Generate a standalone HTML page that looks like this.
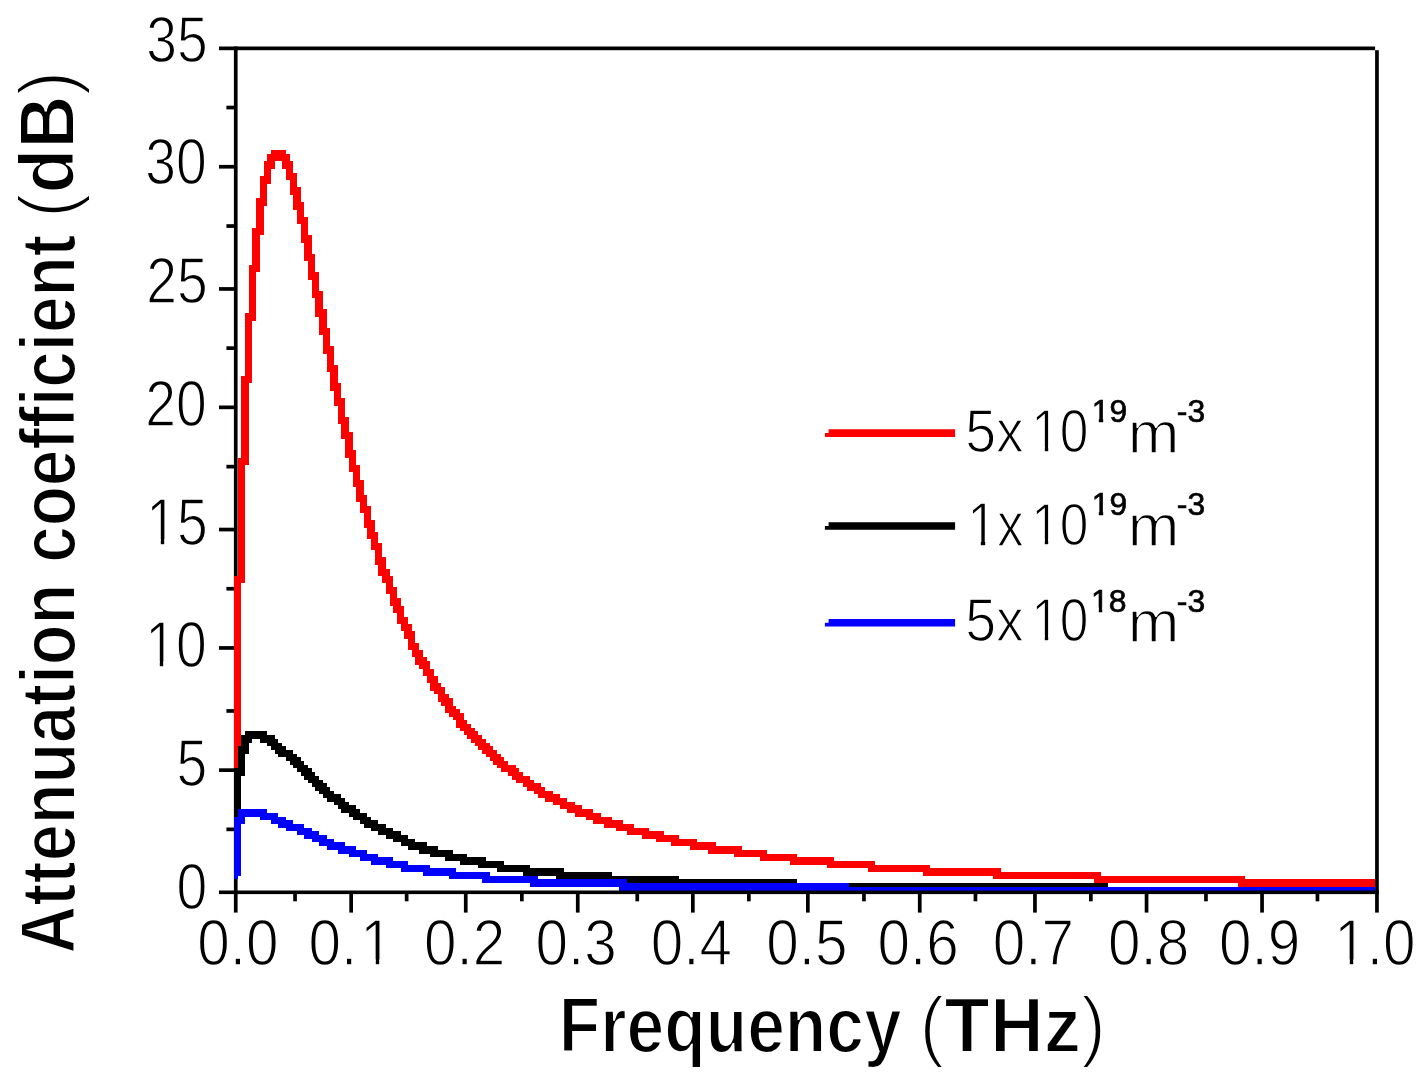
<!DOCTYPE html>
<html lang="en">
<head>
<meta charset="utf-8">
<title>Attenuation coefficient vs Frequency</title>
<style>
html,body{margin:0;padding:0;background:#fff;overflow:hidden;}
body{width:1426px;height:1080px;overflow:hidden;}
svg{display:block;}
text{font-family:"Liberation Sans",sans-serif;fill:#000;}
.b{font-weight:700;}
</style>
</head>
<body>
<svg width="1426" height="1080" viewBox="0 0 1426 1080">
<rect width="1426" height="1080" fill="#fff"/>
<g id="axes">
<rect x="233.9" y="46.5" width="3.7" height="866.1" fill="#000"/>
<rect x="1375.1" y="50.2" width="3.7" height="862.4" fill="#000"/>
<rect x="219.0" y="46.5" width="1156.1" height="3.7" fill="#000"/>
<rect x="226.4" y="105.7" width="8.0" height="3.7" fill="#000"/>
<rect x="219.0" y="164.9" width="15.4" height="3.7" fill="#000"/>
<rect x="226.4" y="224.2" width="8.0" height="3.7" fill="#000"/>
<rect x="219.0" y="287.1" width="15.4" height="3.7" fill="#000"/>
<rect x="226.4" y="346.3" width="8.0" height="3.7" fill="#000"/>
<rect x="219.0" y="405.5" width="15.4" height="3.7" fill="#000"/>
<rect x="226.4" y="464.8" width="8.0" height="3.7" fill="#000"/>
<rect x="219.0" y="527.7" width="15.4" height="3.7" fill="#000"/>
<rect x="226.4" y="586.9" width="8.0" height="3.7" fill="#000"/>
<rect x="219.0" y="646.1" width="15.4" height="3.7" fill="#000"/>
<rect x="226.4" y="709.1" width="8.0" height="3.7" fill="#000"/>
<rect x="219.0" y="768.3" width="15.4" height="3.7" fill="#000"/>
<rect x="226.4" y="827.5" width="8.0" height="3.7" fill="#000"/>
<rect x="293.2" y="893.6" width="3.7" height="7.7" fill="#000"/>
<rect x="349.3" y="893.6" width="3.7" height="19.0" fill="#000"/>
<rect x="404.8" y="893.6" width="3.7" height="7.7" fill="#000"/>
<rect x="463.9" y="893.6" width="3.7" height="19.0" fill="#000"/>
<rect x="520.0" y="893.6" width="3.7" height="7.7" fill="#000"/>
<rect x="575.9" y="893.6" width="3.7" height="19.0" fill="#000"/>
<rect x="635.4" y="893.6" width="3.7" height="7.7" fill="#000"/>
<rect x="691.0" y="893.6" width="3.7" height="19.0" fill="#000"/>
<rect x="747.0" y="893.6" width="3.7" height="7.7" fill="#000"/>
<rect x="806.0" y="893.6" width="3.7" height="19.0" fill="#000"/>
<rect x="862.1" y="893.6" width="3.7" height="7.7" fill="#000"/>
<rect x="917.9" y="893.6" width="3.7" height="19.0" fill="#000"/>
<rect x="973.6" y="893.6" width="3.7" height="7.7" fill="#000"/>
<rect x="1033.1" y="893.6" width="3.7" height="19.0" fill="#000"/>
<rect x="1089.0" y="893.6" width="3.7" height="7.7" fill="#000"/>
<rect x="1144.7" y="893.6" width="3.7" height="19.0" fill="#000"/>
<rect x="1204.1" y="893.6" width="3.7" height="7.7" fill="#000"/>
<rect x="1260.2" y="893.6" width="3.7" height="19.0" fill="#000"/>
<rect x="1315.6" y="893.6" width="3.7" height="7.7" fill="#000"/>
</g>
<g id="curves" shape-rendering="crispEdges">
<path fill="#ff0000" d="M270.9,150.2H285.8V153.9H270.9ZM267.2,153.9H289.5V161.3H267.2ZM282.1,161.3H293.2V168.7H282.1ZM263.5,161.3H274.7V168.7H263.5ZM285.8,168.7H293.2V172.5H285.8ZM263.5,168.7H270.9V176.2H263.5ZM285.8,172.5H296.9V179.9H285.8ZM259.8,176.2H270.9V183.6H259.8ZM289.5,179.9H296.9V187.3H289.5ZM289.5,187.3H300.6V194.7H289.5ZM259.8,183.6H267.2V198.4H259.8ZM293.2,194.7H300.6V202.1H293.2ZM256.1,198.4H267.2V205.8H256.1ZM293.2,202.1H304.3V209.5H293.2ZM296.9,209.5H304.3V216.9H296.9ZM296.9,216.9H308.0V224.3H296.9ZM256.1,205.8H263.5V228.0H256.1ZM300.6,224.3H308.0V235.4H300.6ZM252.4,228.0H263.5V235.4H252.4ZM300.6,235.4H311.7V242.8H300.6ZM304.3,242.8H311.7V253.9H304.3ZM304.3,253.9H315.4V261.3H304.3ZM252.4,235.4H259.8V265.0H252.4ZM308.0,261.3H315.4V272.4H308.0ZM248.7,265.0H259.8V272.4H248.7ZM308.0,272.4H319.1V279.8H308.0ZM311.7,279.8H319.1V290.9H311.7ZM311.7,290.9H322.8V298.3H311.7ZM315.4,298.3H322.8V309.4H315.4ZM248.7,272.4H256.1V313.1H248.7ZM315.4,309.4H326.5V316.8H315.4ZM245.0,313.1H256.1V320.5H245.0ZM319.1,316.8H326.5V327.9H319.1ZM319.1,327.9H330.2V335.3H319.1ZM322.8,335.3H330.2V346.4H322.8ZM322.8,346.4H333.9V353.8H322.8ZM326.5,353.8H333.9V364.9H326.5ZM326.5,364.9H337.6V372.3H326.5ZM245.0,320.5H252.4V376.0H245.0ZM330.2,372.3H337.6V383.4H330.2ZM241.3,376.0H252.4V383.4H241.3ZM330.2,383.4H341.3V390.8H330.2ZM333.9,390.8H341.3V398.2H333.9ZM333.9,398.2H345.1V405.6H333.9ZM337.6,405.6H345.1V416.8H337.6ZM337.6,416.8H348.8V424.2H337.6ZM341.3,424.2H348.8V431.6H341.3ZM341.3,431.6H352.5V439.0H341.3ZM345.1,439.0H352.5V450.1H345.1ZM241.3,383.4H248.7V457.5H241.3ZM345.1,450.1H356.2V457.5H345.1ZM348.8,457.5H356.2V464.9H348.8ZM237.6,457.5H248.7V464.9H237.6ZM348.8,464.9H359.9V472.3H348.8ZM352.5,472.3H359.9V479.7H352.5ZM352.5,479.7H363.6V487.1H352.5ZM356.2,487.1H363.6V494.5H356.2ZM356.2,494.5H367.3V501.9H356.2ZM359.9,501.9H367.3V505.6H359.9ZM359.9,505.6H371.0V513.0H359.9ZM363.6,513.0H371.0V520.4H363.6ZM363.6,520.4H374.7V527.8H363.6ZM367.3,527.8H374.7V531.5H367.3ZM367.3,531.5H378.4V538.9H367.3ZM371.0,538.9H378.4V542.6H371.0ZM371.0,542.6H382.1V550.0H371.0ZM374.7,550.0H382.1V557.4H374.7ZM374.7,557.4H385.8V564.8H374.7ZM378.4,564.8H385.8V568.5H378.4ZM237.6,464.9H245.0V575.9H237.6ZM378.4,568.5H389.5V575.9H378.4ZM382.1,575.9H393.2V583.3H382.1ZM233.9,575.9H245.0V583.3H233.9ZM385.8,583.3H393.2V587.0H385.8ZM385.8,587.0H396.9V594.4H385.8ZM389.5,594.4H396.9V598.1H389.5ZM389.5,598.1H400.6V605.5H389.5ZM393.2,605.5H404.3V612.9H393.2ZM396.9,612.9H404.3V616.6H396.9ZM396.9,616.6H408.0V624.0H396.9ZM400.6,624.0H411.7V631.4H400.6ZM404.3,631.4H415.4V638.8H404.3ZM408.0,638.8H415.4V642.5H408.0ZM408.0,642.5H419.1V649.9H408.0ZM411.7,649.9H422.9V657.3H411.7ZM415.4,657.3H426.6V661.0H415.4ZM415.4,661.0H430.3V664.8H415.4ZM419.1,664.8H430.3V668.5H419.1ZM422.9,668.5H434.0V675.9H422.9ZM426.6,675.9H437.7V683.3H426.6ZM430.3,683.3H441.4V687.0H430.3ZM430.3,687.0H445.1V690.7H430.3ZM434.0,690.7H445.1V694.4H434.0ZM437.7,694.4H448.8V698.1H437.7ZM437.7,698.1H452.5V701.8H437.7ZM441.4,701.8H452.5V705.5H441.4ZM445.1,705.5H456.2V709.2H445.1ZM445.1,709.2H459.9V712.9H445.1ZM448.8,712.9H463.6V716.6H448.8ZM452.5,716.6H463.6V720.3H452.5ZM456.2,720.3H467.3V724.0H456.2ZM456.2,724.0H471.0V727.7H456.2ZM459.9,727.7H474.7V731.4H459.9ZM463.6,731.4H478.4V735.1H463.6ZM467.3,735.1H482.1V738.8H467.3ZM471.0,738.8H485.8V742.5H471.0ZM233.9,583.3H241.3V746.2H233.9ZM474.7,742.5H489.5V746.2H474.7ZM478.4,746.2H493.2V749.9H478.4ZM482.1,749.9H497.0V753.6H482.1ZM485.8,753.6H500.7V757.3H485.8ZM489.5,757.3H504.4V761.0H489.5ZM493.2,761.0H508.1V764.7H493.2ZM233.9,746.2H237.6V768.4H233.9ZM497.0,764.7H515.5V768.4H497.0ZM500.7,768.4H519.2V772.1H500.7ZM508.1,772.1H522.9V775.8H508.1ZM511.8,775.8H530.3V779.5H511.8ZM515.5,779.5H534.0V783.2H515.5ZM522.9,783.2H541.4V786.9H522.9ZM526.6,786.9H545.1V790.6H526.6ZM534.0,790.6H552.5V794.3H534.0ZM537.7,794.3H559.9V798.0H537.7ZM545.1,798.0H567.4V801.7H545.1ZM552.5,801.7H574.8V805.4H552.5ZM559.9,805.4H582.2V809.1H559.9ZM567.4,809.1H593.3V812.8H567.4ZM574.8,812.8H600.7V816.5H574.8ZM585.9,816.5H611.8V820.2H585.9ZM593.3,820.2H622.9V823.9H593.3ZM604.4,823.9H634.0V827.6H604.4ZM615.5,827.6H648.9V831.3H615.5ZM626.6,831.3H663.7V835.0H626.6ZM641.5,835.0H678.5V838.7H641.5ZM656.3,838.7H697.0V842.4H656.3ZM671.1,842.4H715.6V846.1H671.1ZM689.6,846.1H741.5V849.8H689.6ZM708.1,849.8H767.4V853.5H708.1ZM734.1,853.5H797.1V857.2H734.1ZM760.0,857.2H834.1V860.9H760.0ZM789.6,860.9H874.9V864.6H789.6ZM826.7,864.6H930.4V868.3H826.7ZM867.5,868.3H1000.8V872.0H867.5ZM923.0,872.0H1100.9V875.7H923.0ZM993.4,875.7H1245.4V879.4H993.4ZM1093.5,879.4H1375.0V883.1H1093.5ZM1238.0,883.1H1375.0V886.8H1238.0Z"/>
<path fill="#000000" d="M245.0,731.4H267.2V735.1H245.0ZM241.3,735.1H274.7V738.8H241.3ZM241.3,738.8H252.4V742.5H241.3ZM259.8,738.8H278.4V742.5H259.8ZM241.3,742.5H248.7V746.2H241.3ZM267.2,742.5H282.1V746.2H267.2ZM270.9,746.2H285.8V749.9H270.9ZM237.6,746.2H248.7V753.6H237.6ZM274.7,749.9H293.2V753.6H274.7ZM278.4,753.6H296.9V757.3H278.4ZM285.8,757.3H300.6V761.0H285.8ZM289.5,761.0H304.3V764.7H289.5ZM237.6,753.6H245.0V768.4H237.6ZM293.2,764.7H308.0V768.4H293.2ZM296.9,768.4H311.7V772.1H296.9ZM233.9,768.4H245.0V775.8H233.9ZM300.6,772.1H315.4V775.8H300.6ZM304.3,775.8H319.1V779.5H304.3ZM308.0,779.5H322.8V783.2H308.0ZM311.7,783.2H326.5V786.9H311.7ZM315.4,786.9H330.2V790.6H315.4ZM319.1,790.6H333.9V794.3H319.1ZM322.8,794.3H341.3V798.0H322.8ZM326.5,798.0H345.1V801.7H326.5ZM333.9,801.7H348.8V805.4H333.9ZM233.9,775.8H241.3V809.1H233.9ZM337.6,805.4H356.2V809.1H337.6ZM341.3,809.1H359.9V812.8H341.3ZM233.9,809.1H237.6V816.5H233.9ZM348.8,812.8H367.3V816.5H348.8ZM352.5,816.5H371.0V820.2H352.5ZM359.9,820.2H378.4V823.9H359.9ZM363.6,823.9H385.8V827.6H363.6ZM371.0,827.6H393.2V831.3H371.0ZM378.4,831.3H400.6V835.0H378.4ZM385.8,835.0H408.0V838.7H385.8ZM393.2,838.7H415.4V842.4H393.2ZM400.6,842.4H426.6V846.1H400.6ZM408.0,846.1H437.7V849.8H408.0ZM419.1,849.8H452.5V853.5H419.1ZM430.3,853.5H467.3V857.2H430.3ZM445.1,857.2H485.8V860.9H445.1ZM459.9,860.9H504.4V864.6H459.9ZM478.4,864.6H530.3V868.3H478.4ZM497.0,868.3H563.6V872.0H497.0ZM522.9,872.0H611.8V875.7H522.9ZM556.2,875.7H678.5V879.4H556.2ZM626.6,879.4H797.1V883.1H626.6ZM848.9,883.1H1108.3V886.8H848.9Z"/>
<path fill="#0000ff" d="M237.6,809.1H267.2V812.8H237.6ZM237.6,812.8H278.4V816.5H237.6ZM259.8,816.5H285.8V820.2H259.8ZM233.9,816.5H245.0V823.9H233.9ZM270.9,820.2H293.2V823.9H270.9ZM278.4,823.9H304.3V827.6H278.4ZM285.8,827.6H311.7V831.3H285.8ZM296.9,831.3H319.1V835.0H296.9ZM304.3,835.0H326.5V838.7H304.3ZM311.7,838.7H333.9V842.4H311.7ZM319.1,842.4H345.1V846.1H319.1ZM326.5,846.1H356.2V849.8H326.5ZM337.6,849.8H367.3V853.5H337.6ZM348.8,853.5H378.4V857.2H348.8ZM359.9,857.2H393.2V860.9H359.9ZM371.0,860.9H408.0V864.6H371.0ZM385.8,864.6H430.3V868.3H385.8ZM400.6,868.3H456.2V872.0H400.6ZM233.9,823.9H241.3V875.7H233.9ZM422.9,872.0H489.5V875.7H422.9ZM233.9,875.7H237.6V879.4H233.9ZM448.8,875.7H537.7V879.4H448.8ZM482.1,879.4H626.6V883.1H482.1ZM530.3,883.1H848.9V886.8H530.3ZM619.2,886.8H1375.0V890.5H619.2Z"/>
</g>
<g id="axis-bottom">
<rect x="219.0" y="890.5" width="1159.8" height="3.6" fill="#000"/>
</g>
<g id="legend-lines">
<path fill="#ff0000" d="M828.6,429.3 H955.1 V436.9 H824.9 V433.1 H828.6 Z"/>
<path fill="#000000" d="M828.6,522.2 H955.1 V529.7 H824.9 V526.0 H828.6 Z"/>
<path fill="#0000ff" d="M828.6,619.0 H955.1 V626.5 H824.9 V622.8 H828.6 Z"/>
</g>
<g id="labels">
<text font-size="60" transform="translate(146.18,61.70) scale(0.9210,1.0951)" stroke="#fff" stroke-width="1.3">35</text>
<text font-size="60" transform="translate(145.26,184.00) scale(0.9210,1.0829)" stroke="#fff" stroke-width="1.3">30</text>
<text font-size="60" transform="translate(146.18,303.10) scale(0.9210,1.0951)" stroke="#fff" stroke-width="1.3">25</text>
<text font-size="60" transform="translate(145.26,426.00) scale(0.9210,1.0951)" stroke="#fff" stroke-width="1.3">20</text>
<text font-size="60" transform="translate(146.18,544.80) scale(0.9210,1.1175)" stroke="#fff" stroke-width="1.3">15</text>
<text font-size="60" transform="translate(145.26,667.30) scale(0.9210,1.0829)" stroke="#fff" stroke-width="1.3">10</text>
<text font-size="60" transform="translate(176.57,786.40) scale(0.9210,1.1175)" stroke="#fff" stroke-width="1.3">5</text>
<text font-size="60" transform="translate(176.57,909.00) scale(0.9210,1.0902)" stroke="#fff" stroke-width="1.3">0</text>
<text font-size="60" transform="translate(197.27,964.80) scale(0.9750,1.0829)" stroke="#fff" stroke-width="1.3">0.0</text>
<text font-size="60" transform="translate(308.38,964.80) scale(0.9750,1.0829)" stroke="#fff" stroke-width="1.3">0.<tspan dx="3.2">1</tspan></text>
<text font-size="60" transform="translate(423.97,964.80) scale(0.9750,1.0829)" stroke="#fff" stroke-width="1.3">0.2</text>
<text font-size="60" transform="translate(535.58,964.80) scale(0.9750,1.0829)" stroke="#fff" stroke-width="1.3">0.3</text>
<text font-size="60" transform="translate(650.68,964.80) scale(0.9750,1.0829)" stroke="#fff" stroke-width="1.3">0.4</text>
<text font-size="60" transform="translate(766.18,964.80) scale(0.9750,1.0829)" stroke="#fff" stroke-width="1.3">0.5</text>
<text font-size="60" transform="translate(877.48,964.80) scale(0.9750,1.0829)" stroke="#fff" stroke-width="1.3">0.6</text>
<text font-size="60" transform="translate(992.78,964.80) scale(0.9750,1.0829)" stroke="#fff" stroke-width="1.3">0.7</text>
<text font-size="60" transform="translate(1108.08,964.80) scale(0.9750,1.0829)" stroke="#fff" stroke-width="1.3">0.8</text>
<text font-size="60" transform="translate(1219.08,964.80) scale(0.9750,1.0829)" stroke="#fff" stroke-width="1.3">0.9</text>
<text font-size="60" transform="translate(1334.30,964.80) scale(0.9750,1.0829)" stroke="#fff" stroke-width="1.3">1.0</text>
<text class="b" font-size="75" transform="translate(558.77,1052.00) scale(0.9043,1.0400)" stroke="#fff" stroke-width="2.0">Frequency</text>
<text class="b" font-size="75" transform="translate(919.53,1052.00) scale(0.9943,1.0400)" stroke="#fff" stroke-width="2.0"><tspan font-weight="400">(</tspan>THz<tspan font-weight="400">)</tspan></text>
<text class="b" font-size="78" transform="translate(74.50,953.71) scale(1.0036,0.8537) rotate(-90)" stroke="#fff" stroke-width="2.0">Attenuation</text>
<text class="b" font-size="78" transform="translate(74.50,562.87) scale(1.0036,0.8417) rotate(-90)" stroke="#fff" stroke-width="2.0">coefficient</text>
<text class="b" font-size="78" transform="translate(74.22,217.85) scale(0.9986,0.9417) rotate(-90)" stroke="#fff" stroke-width="2.0"><tspan font-weight="400">(</tspan>dB<tspan font-weight="400">)</tspan></text>
<text font-size="56" transform="translate(965.24,451.70) scale(0.9906,1.1054)" stroke="#fff" stroke-width="1.3">5x</text>
<text font-size="56" transform="translate(1031.22,451.70) scale(0.9200,1.0763)" stroke="#fff" stroke-width="1.3">10</text>
<text font-size="33" transform="translate(1091.86,421.80) scale(0.9670,0.9652)" stroke="#000" stroke-width="0.7">19</text>
<text font-size="56" transform="translate(1127.66,452.77) scale(1.1081,1.0679)" stroke="#fff" stroke-width="1.3">m</text>
<text font-size="33" transform="translate(1176.83,421.80) scale(0.9667,0.9652)" stroke="#000" stroke-width="0.7">-3</text>
<text font-size="56" transform="translate(967.27,545.83) scale(0.9550,1.1333)" stroke="#fff" stroke-width="1.3">1x</text>
<text font-size="56" transform="translate(1031.22,544.70) scale(0.9200,1.0737)" stroke="#fff" stroke-width="1.3">10</text>
<text font-size="33" transform="translate(1091.86,514.90) scale(0.9670,0.9652)" stroke="#000" stroke-width="0.7">19</text>
<text font-size="56" transform="translate(1127.66,545.76) scale(1.1081,1.0643)" stroke="#fff" stroke-width="1.3">m</text>
<text font-size="33" transform="translate(1176.83,514.90) scale(0.9667,0.9652)" stroke="#000" stroke-width="0.7">-3</text>
<text font-size="56" transform="translate(965.24,641.30) scale(0.9906,1.1054)" stroke="#fff" stroke-width="1.3">5x</text>
<text font-size="56" transform="translate(1031.22,641.30) scale(0.9200,1.0763)" stroke="#fff" stroke-width="1.3">10</text>
<text font-size="33" transform="translate(1090.89,611.60) scale(0.9670,0.9739)" stroke="#000" stroke-width="0.7">18</text>
<text font-size="56" transform="translate(1127.66,642.36) scale(1.1081,1.0607)" stroke="#fff" stroke-width="1.3">m</text>
<text font-size="33" transform="translate(1176.83,611.60) scale(0.9667,0.9739)" stroke="#000" stroke-width="0.7">-3</text>
</g>
<g id="glyph-trim" fill="#fff">
<rect x="363.5" y="959.5" width="12.3" height="6.0"/>
<rect x="379.2" y="959.5" width="11.3" height="6.0"/>
<rect x="1337.5" y="959.5" width="12.3" height="6.0"/>
<rect x="1353.2" y="959.5" width="11.3" height="6.0"/>
<rect x="149.5" y="539.5" width="11.3" height="6.0"/>
<rect x="164.2" y="539.5" width="11.3" height="6.0"/>
<rect x="148.5" y="661.5" width="11.3" height="6.0"/>
<rect x="163.2" y="661.5" width="11.3" height="6.0"/>
<rect x="970.5" y="540.5" width="10.3" height="6.0"/>
<rect x="985.2" y="540.5" width="10.3" height="6.0"/>
<rect x="1034.5" y="446.5" width="10.3" height="6.0"/>
<rect x="1048.2" y="446.5" width="10.3" height="6.0"/>
<rect x="1034.5" y="539.5" width="10.3" height="6.0"/>
<rect x="1048.2" y="539.5" width="10.3" height="6.0"/>
<rect x="1034.5" y="635.5" width="10.3" height="6.0"/>
<rect x="1048.2" y="635.5" width="10.3" height="6.0"/>
<rect x="1092.5" y="417.5" width="6.3" height="6.0"/>
<rect x="1103.2" y="417.5" width="6.3" height="6.0"/>
<rect x="1092.5" y="510.5" width="6.3" height="6.0"/>
<rect x="1103.2" y="510.5" width="6.3" height="6.0"/>
<rect x="1091.5" y="607.5" width="7.3" height="6.0"/>
<rect x="1102.2" y="607.5" width="7.3" height="6.0"/>
</g>
</svg>
</body>
</html>
